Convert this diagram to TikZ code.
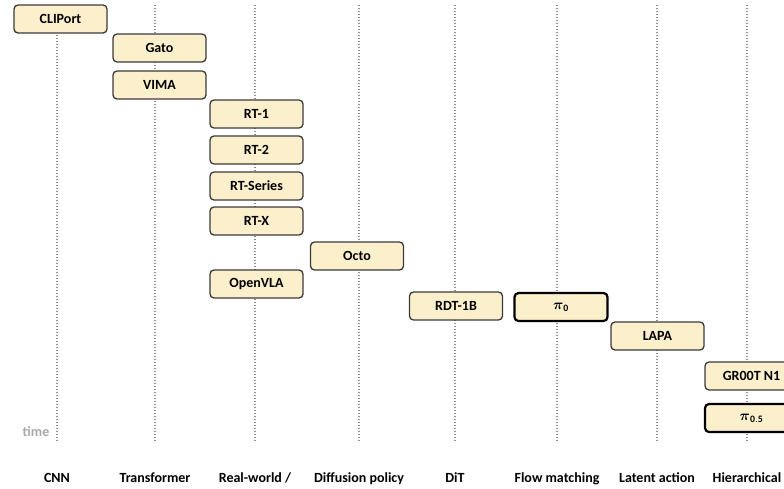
\documentclass[tikz,border=0pt]{standalone}
\usepackage{amsmath}
\usepackage{fontspec}
\setmainfont{Carlito}
\usepackage{tikz}
\usetikzlibrary{positioning}
\definecolor{boxfill}{HTML}{FCEFCB}
\definecolor{boxdraw}{HTML}{3A3A3A}
\definecolor{lanegray}{HTML}{8C8C8C}
\definecolor{timegray}{HTML}{A8A8A8}

\tikzset{
  model/.style={draw=boxdraw, fill=boxfill, line width=1.3pt, rounded corners=4pt,
    minimum width=93pt, minimum height=28pt, font=\fontsize{14}{16}\selectfont\bfseries},
  keymodel/.style={model, draw=black, line width=2.2pt},
  lane/.style={lanegray, line width=1.2pt, dash pattern=on 1.4pt off 1.6pt},
  family/.style={anchor=base, font=\fontsize{14}{16}\selectfont\bfseries}
}

\begin{document}
\begin{tikzpicture}[x=1pt, y=-1pt]

    %% ── frame ──────────────────────────────────────────────────────────
    \useasboundingbox (0,0) rectangle (784,488);
    \clip (0,0) rectangle (784,488);

    %% Timeline lanes
    \foreach \lx in {57,155,255,359,455,557,657,747}
      \draw[lane] (\lx,5) -- (\lx,442);

    \node[timegray, font=\fontsize{14}{16}\selectfont\bfseries] (time) at (36,432) {time};

    %% ═══ Models ═════════════════════════════════════════════════════════
    \node[model] (cliport) at (60.5,19) {CLIPort};

    \node[model] (gato) at (159.5,48) {Gato};
    \node[model] (vima) at (159.5,85) {VIMA};

    \node[model] (rt1)  at (256.5,114) {RT-1};
    \node[model] (rt2)  at (256.5,150) {RT-2};
    \node[model] (rts)  at (256.5,186) {RT-Series};
    \node[model] (rtx)  at (256.5,221) {RT-X};
    \node[model] (octo) at (357,256) {Octo};
    \node[model] (openvla) at (256.5,284) {OpenVLA};

    \node[model] (rdt) at (456,306) {RDT-1B};
    \node[keymodel] (pi0) at (561,307) {$\boldsymbol{\pi}_{\mathbf{0}}$};
    \node[model] (lapa) at (657.5,336) {LAPA};

    \node[model] (groot) at (751.5,376) {GR00T N1};
    \node[keymodel] (pi05) at (751.5,418) {$\boldsymbol{\pi}_{\mathbf{0.5}}$};

    %% ═══ Families ═══════════════════════════════════════════════════════
    \node[family] (cnn)   at (57,482)  {CNN};
    \node[family] (trf)   at (155,482) {Transformer};
    \node[family] (real)  at (255,482) {Real-world /};
    \node[family] (diff)  at (359,482) {Diffusion policy};
    \node[family] (dit)   at (455,482) {DiT};
    \node[family] (flow)  at (557,482) {Flow matching};
    \node[family] (lat)   at (657,482) {Latent action};
    \node[family] (hier)  at (747,482) {Hierarchical};

\end{tikzpicture}
\end{document}
